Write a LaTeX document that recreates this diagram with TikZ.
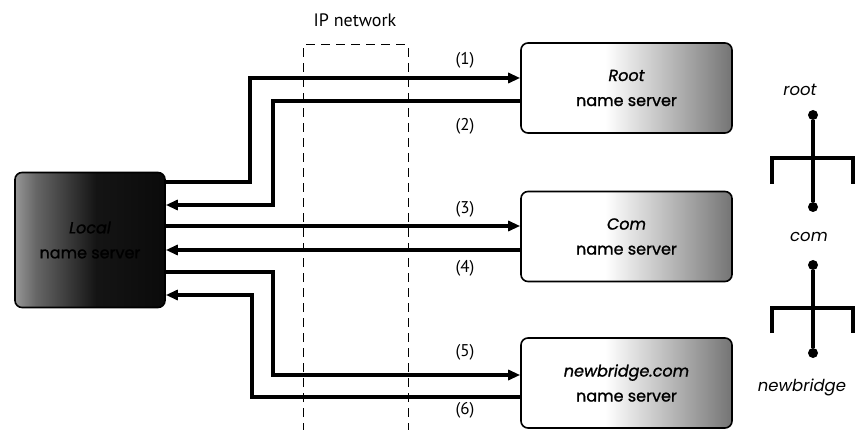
\documentclass[tikz,border=0pt]{standalone}
\usepackage{fontspec}
\setmainfont{Poppins}
\newfontfamily\boxfont{Poppins}[FakeBold=1.2]
\newfontfamily\labfont{PT Sans}
\usetikzlibrary{arrows.meta}
\pgfdeclarehorizontalshading{srvshade}{100bp}{color(0bp)=(white); color(45bp)=(white); color(70bp)=(black!45); color(88bp)=(black!80); color(100bp)=(black)}
\pgfdeclarehorizontalshading{locshade}{100bp}{color(0bp)=(white); color(10bp)=(white); color(32bp)=(black!60); color(52bp)=(black!92); color(100bp)=(black)}
\tikzset{
  server/.style={draw=black, line width=1.6pt, rounded corners=7pt, shading=srvshade,
    minimum width=211pt, minimum height=90pt, align=center, font=\boxfont\fontsize{16}{25}\selectfont, inner sep=0pt},
  localsrv/.style={draw=black, line width=1.6pt, rounded corners=7pt, shading=locshade,
    minimum width=150pt, minimum height=135pt, align=center, font=\boxfont\fontsize{16}{25}\selectfont, inner sep=0pt},
  flow/.style={line width=3.6pt, -{Triangle[length=12pt,width=10pt]}},
  msg/.style={font=\labfont\fontsize{17}{20}\selectfont},
  treelab/.style={font=\itshape\fontsize{16.5}{20}\selectfont},
  net/.style={dashed, dash pattern=on 9pt off 6pt, line width=1pt},
  tree/.style={line width=4.4pt},
  dot/.style={circle, fill=black, minimum size=10pt, inner sep=0pt},
}
\begin{document}
\begin{tikzpicture}[x=1pt,y=-1pt]
\useasboundingbox (0,0) rectangle (856,430);
% IP network
\node[msg, font=\labfont\fontsize{18}{20}\selectfont] (iplab) at (355,20) {IP network};
\coordinate (ipbl) at (303,432);
\coordinate (iptl) at (303,45);
\coordinate (iptr) at (408,45);
\coordinate (ipbr) at (408,432);
\draw[net] (ipbl) -- (iptl) -- (iptr) -- (ipbr);
% servers
\node[localsrv] (local) at (90,240) {\itshape Local\\name server};
\node[server] (root) at (626.5,88) {\itshape Root\\name server};
\node[server] (com) at (626.5,236.5) {\itshape Com\\name server};
\node[server] (nb) at (626.5,383) {\itshape newbridge.com\\name server};
% flows
\draw[flow] (local.east |- 0,182) -| (250,78) -- (root.west |- 0,78);
\draw[flow] (root.west |- 0,101) -| (273,205) -- (local.east |- 0,205);
\draw[flow] (local.east |- 0,226) -- (com.west |- 0,226);
\draw[flow] (com.west |- 0,250) -- (local.east |- 0,250);
\draw[flow] (local.east |- 0,272) -| (273,375) -- (nb.west |- 0,375);
\draw[flow] (nb.west |- 0,397) -| (252,295) -- (local.east |- 0,295);
% labels
\node[msg] (m1) at (465,60) {(1)};
\node[msg] (m2) at (465,126) {(2)};
\node[msg] (m3) at (465,209) {(3)};
\node[msg] (m4) at (465,268) {(4)};
\node[msg] (m5) at (465,352) {(5)};
\node[msg] (m6) at (465,410) {(6)};
% tree
\node[treelab] (troot) at (800,90) {root};
\node[treelab] (tcom) at (809,237) {com};
\node[treelab] (tnb) at (802,387) {newbridge};
\node[dot] (d1) at (813,115) {};
\node[dot] (d2) at (813,207) {};
\node[dot] (d3) at (813,265) {};
\node[dot] (d4) at (813,353) {};
\coordinate (b1l) at (772,184);
\coordinate (b1r) at (853,184);
\coordinate (b2l) at (772,333);
\coordinate (b2r) at (853,333);
\draw[tree] (d1) -- (d2);
\draw[tree] (b1l) |- (813,158) -| (b1r);
\draw[tree] (d3) -- (d4);
\draw[tree] (b2l) |- (813,308) -| (b2r);
\end{tikzpicture}
\end{document}
